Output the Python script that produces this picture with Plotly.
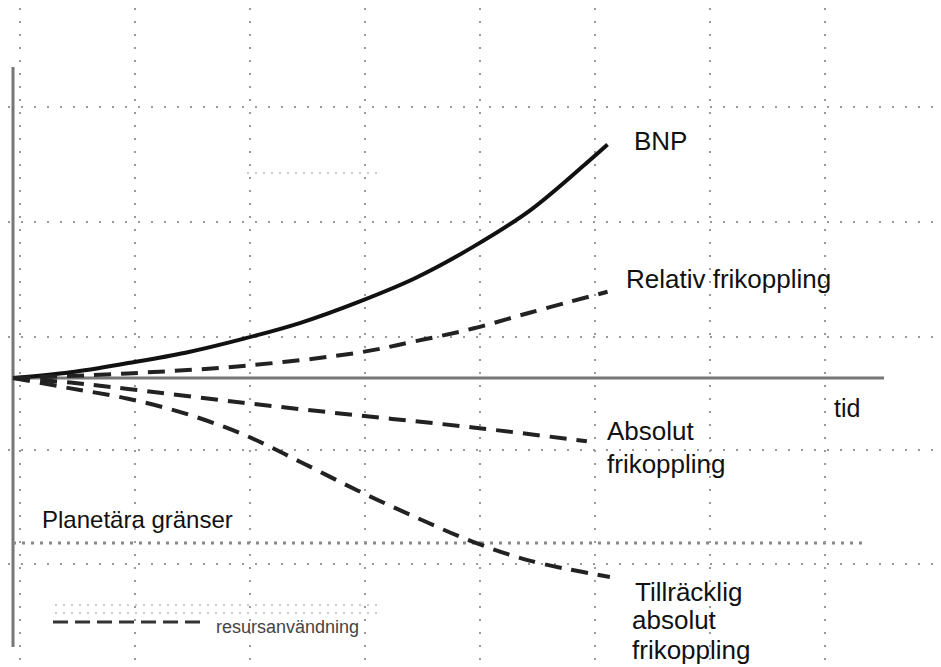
import plotly.graph_objects as go

# ---------------- data (time units, value units) ----------------
bnp_t = [0, 0.5, 1.0, 1.5, 2.0, 2.5, 3.0, 3.5, 4.0, 4.5, 5.0, 5.17]
bnp_v = [0, 0.05, 0.13, 0.22, 0.34, 0.48, 0.66, 0.87, 1.14, 1.46, 1.88, 2.03]

rel_t = [0, 1.0, 2.0, 3.0, 3.5, 4.0, 4.5, 5.17]
rel_v = [0, 0.04, 0.105, 0.22, 0.32, 0.43, 0.57, 0.75]

abs_t = [0, 0.5, 1.0, 2.0, 3.0, 4.0, 4.99]
abs_v = [0, -0.04, -0.095, -0.215, -0.325, -0.43, -0.55]

till_t = [0, 0.5, 1.0, 1.5, 2.0, 2.5, 3.0, 3.5, 4.0, 4.5, 5.19]
till_v = [0, -0.09, -0.18, -0.31, -0.49, -0.73, -0.98, -1.21, -1.425, -1.59, -1.73]

planetary_limit = -1.435
grid_x = [0.06 + k for k in range(9)]
grid_y = [2.36, 1.36, 0.36, -0.63, -1.62]

labels = {
    "bnp": "BNP",
    "rel": "Relativ frikoppling",
    "tid": "tid",
    "abs1": "Absolut",
    "abs2": "frikoppling",
    "plan": "Planetära gränser",
    "till1": "Tillräcklig",
    "till2": "absolut",
    "till3": "frikoppling",
    "legend": "resursanvändning",
}

# ---------------- layout helpers ----------------
PAGE_W, PAGE_H = 941, 667
OFF = 8                      # default page margin around the plot div
W, H = PAGE_W - OFF, PAGE_H - OFF
X0, Y0, U = 13 - OFF, 378 - OFF, 115  # origin pixel (in figure) and pixels per unit


def px(x):
    return (x - OFF) / W


def py(y):
    return 1 - (y - OFF) / H


FONT = "Liberation Sans, Arial, sans-serif"

fig = go.Figure()

dash_style = "17px,10px"
fig.add_trace(go.Scatter(x=bnp_t, y=bnp_v, mode="lines",
                         line=dict(color="#111111", width=4, shape="spline", smoothing=1)))
fig.add_trace(go.Scatter(x=rel_t, y=rel_v, mode="lines",
                         line=dict(color="#222222", width=4, dash=dash_style, shape="spline", smoothing=1)))
fig.add_trace(go.Scatter(x=abs_t, y=abs_v, mode="lines",
                         line=dict(color="#222222", width=4, dash=dash_style, shape="spline", smoothing=1)))
fig.add_trace(go.Scatter(x=till_t, y=till_v, mode="lines",
                         line=dict(color="#222222", width=4, dash=dash_style, shape="spline", smoothing=1)))

shapes = []
# drawn axes
shapes.append(dict(type="line", xref="x", yref="y", x0=0, x1=(884 - 13) / U, y0=0, y1=0,
                   line=dict(color="#777777", width=3), layer="below"))
shapes.append(dict(type="line", xref="x", yref="y", x0=0, x1=0,
                   y0=(378 - 67) / U, y1=(378 - 647) / U,
                   line=dict(color="#777777", width=3), layer="below"))
# planetary boundary
shapes.append(dict(type="line", xref="x", yref="y", x0=0, x1=(867 - 13) / U,
                   y0=planetary_limit, y1=planetary_limit,
                   line=dict(color="#888888", width=3, dash="3px,6px"), layer="below"))
# faint scan artefacts
for yy, xa, xb in [(605, 55, 378), (613, 55, 378), (173, 247, 383)]:
    shapes.append(dict(type="line", xref="paper", yref="paper", x0=px(xa), x1=px(xb),
                       y0=py(yy), y1=py(yy),
                       line=dict(color="#cccccc", width=2, dash="2px,6px"), layer="below"))
# legend sample
shapes.append(dict(type="line", xref="paper", yref="paper", x0=px(53), x1=px(207),
                   y0=py(622), y1=py(622),
                   line=dict(color="#333333", width=3, dash="15px,7px")))

annotations = []


def label(text, x, y, size):
    annotations.append(dict(text=text, xref="paper", yref="paper", x=px(x), y=py(y),
                            xanchor="left", yanchor="middle", showarrow=False,
                            font=dict(family=FONT, size=size, color="#111111")))


label(labels["bnp"], 632, 141, 26)
label(labels["rel"], 624, 279, 26)
label(labels["tid"], 832, 408, 25)
label(labels["abs1"], 605, 431, 26)
label(labels["abs2"], 605, 464, 26)
label(labels["plan"], 40, 519, 24)
label(labels["till1"], 633, 592, 26)
label(labels["till2"], 630, 620, 26)
label(labels["till3"], 630, 650, 26)
annotations.append(dict(text=labels["legend"], xref="paper", yref="paper", x=px(214), y=py(627),
                        xanchor="left", yanchor="middle", showarrow=False,
                        font=dict(family=FONT, size=18, color="#444444")))

axis_common = dict(showticklabels=False, ticks="", zeroline=False, showline=False,
                   showgrid=True, gridcolor="#9a9a9a", gridwidth=2, griddash="2px,11px",
                   fixedrange=True)

fig.update_layout(
    width=W, height=H, autosize=False,
    margin=dict(l=0, r=0, t=0, b=0),
    paper_bgcolor="white", plot_bgcolor="white",
    showlegend=False,
    xaxis=dict(range=[-X0 / U, (W - X0) / U], tickmode="array", tickvals=grid_x, **axis_common),
    yaxis=dict(range=[-(H - Y0) / U, Y0 / U], tickmode="array", tickvals=grid_y, **axis_common),
    shapes=shapes,
    annotations=annotations,
)

fig.write_html("out.html")
